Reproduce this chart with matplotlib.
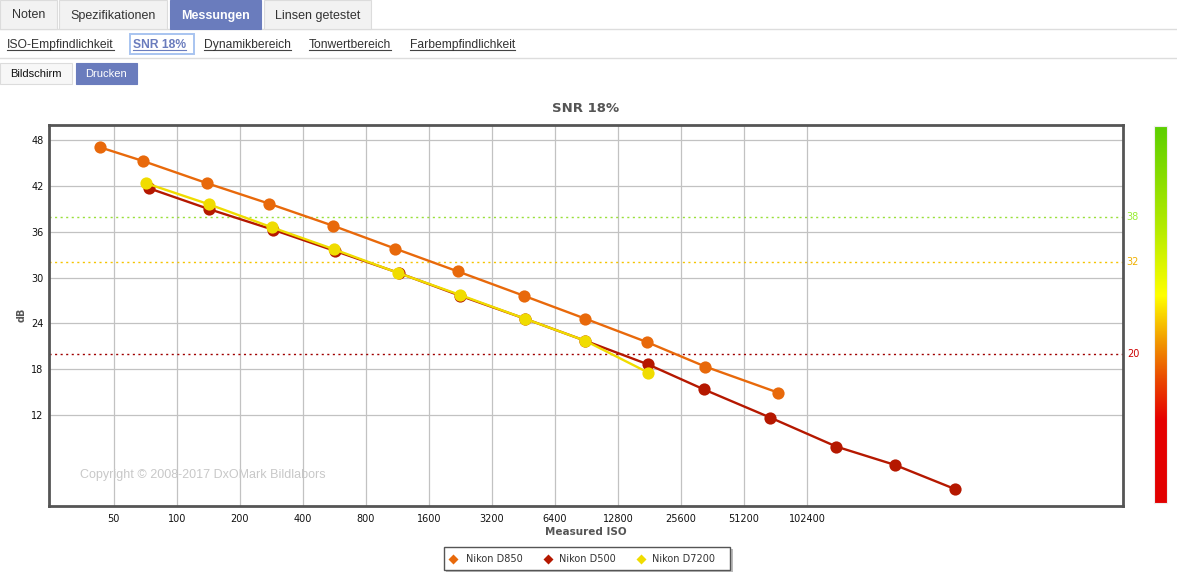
import matplotlib
matplotlib.use("Agg")
import matplotlib.pyplot as plt
import numpy as np
from matplotlib.patches import Rectangle
from matplotlib.lines import Line2D
from matplotlib.colors import LinearSegmentedColormap

# ---------------- data ----------------
d850_iso = [43, 69, 139, 276, 558, 1104, 2202, 4556, 8931, 17690, 33490, 74300]
d850_snr = [47.1, 45.3, 42.4, 39.7, 36.8, 33.8, 30.8, 27.6, 24.6, 21.5, 18.3, 14.9]

d500_iso = [74, 142, 287, 569, 1150, 2263, 4600, 8931, 17800, 33000, 68500,
            141500, 269000, 524000]
d500_snr = [41.7, 39.0, 36.3, 33.5, 30.6, 27.6, 24.6, 21.7, 18.6, 15.3, 11.6,
            7.8, 5.4, 2.2]

d7200_iso = [71, 143, 284, 565, 1142, 2263, 4600, 8931, 17900]
d7200_snr = [42.4, 39.6, 36.6, 33.7, 30.6, 27.7, 24.6, 21.7, 17.5]

series_names = ["Nikon D850", "Nikon D500", "Nikon D7200"]
series_colors = ["#e8690b", "#b51800", "#f0dc00"]

x_ticks = [50, 100, 200, 400, 800, 1600, 3200, 6400, 12800, 25600, 51200, 102400]
x_tick_labels = [str(v) for v in x_ticks]
y_ticks = [12, 18, 24, 30, 36, 42, 48]

thresholds = [38, 32, 20]
threshold_line_colors = ["#99e03a", "#f5c400", "#a00000"]
threshold_label_colors = ["#99ee33", "#f0b000", "#cc0000"]

tabs = ["Noten", "Spezifikationen", "Messungen", "Linsen getestet"]
links = ["ISO-Empfindlichkeit", "SNR 18%", "Dynamikbereich", "Tonwertbereich",
         "Farbempfindlichkeit"]
buttons = ["Bildschirm", "Drucken"]

# ---------------- figure ----------------
W, H = 1177, 578
fig = plt.figure(figsize=(W / 100, H / 100), dpi=100)
fig.patch.set_facecolor("white")

def fx(x):
    return x / W

def fy(y):
    return 1 - y / H

def prect(x0, y0, x1, y1, fc, ec="none", lw=0.8, z=1):
    r = Rectangle((fx(x0), fy(y1)), fx(x1) - fx(x0), fy(y0) - fy(y1),
                  transform=fig.transFigure, facecolor=fc, edgecolor=ec,
                  linewidth=lw, zorder=z)
    fig.add_artist(r)

def pline(x0, y0, x1, y1, color, lw=0.8, z=2):
    fig.add_artist(Line2D([fx(x0), fx(x1)], [fy(y0), fy(y1)],
                          transform=fig.transFigure, color=color, lw=lw, zorder=z))

ui_font = ["Liberation Sans", "DejaVu Sans"]
BLUE = "#6a7cbd"

# ---- tabs row ----
tab_boxes = [(0, 57), (59, 167), (170, 261), (264, 371)]
pline(0, 28.5, W, 28.5, "#dddddd", 1.0)
for i, (name, (a, b)) in enumerate(zip(tabs, tab_boxes)):
    sel = (i == 2)
    prect(a, 0, b, 28.5, BLUE if sel else "#f2f2f2",
          ec=BLUE if sel else "#dcdcdc", lw=0.8, z=3)
    fig.text(fx((a + b) / 2), fy(18.5), name, ha="center", va="baseline",
             fontsize=9, family=ui_font, color="white" if sel else "#333333",
             fontweight="bold" if sel else "normal", zorder=4)

# ---- links row ----
link_x = [7, 133, 204, 309, 410]
fig.canvas.draw()
renderer = fig.canvas.get_renderer()
for i, (name, x0) in enumerate(zip(links, link_x)):
    sel = (i == 1)
    t = fig.text(fx(x0), fy(47.7), name, ha="left", va="baseline", fontsize=8.7,
                 family=ui_font, color=BLUE if sel else "#333333",
                 fontweight="bold" if sel else "normal", zorder=4)
    bb = t.get_window_extent(renderer=renderer)
    pline(bb.x0, 49.5, bb.x1, 49.5, BLUE if sel else "#444444", 0.8, z=4)
    if sel:
        prect(x0 - 3, 34.5, 194, 53.5, "white", ec="#a8c4f0", lw=1.4, z=3)
pline(0, 58, W, 58, "#dddddd", 1.0)

# ---- buttons ----
btn_boxes = [(0, 72), (76, 137)]
for i, (name, (a, b)) in enumerate(zip(buttons, btn_boxes)):
    sel = (i == 1)
    prect(a, 63, b, 84, BLUE if sel else "#f7f7f7",
          ec=BLUE if sel else "#dcdcdc", lw=0.8, z=3)
    fig.text(fx((a + b) / 2), fy(77), name, ha="center", va="baseline",
             fontsize=8, family=ui_font, color="white" if sel else "#111111",
             zorder=4)

# ---------------- main axes ----------------
L, R, T, B = 49, 1123, 124.5, 506
ax = fig.add_axes([fx(L), fy(B), fx(R) - fx(L), fy(T) - fy(B)])
ax.set_xscale("log", base=2)
ax.set_xlim(24.5, 3.31e6)
ax.set_ylim(0, 50.1)

ax.set_xticks(x_ticks)
ax.set_xticklabels(x_tick_labels)
ax.xaxis.set_minor_locator(matplotlib.ticker.NullLocator())
ax.set_yticks(y_ticks)
ax.set_yticklabels([str(v) for v in y_ticks])
ax.tick_params(axis="both", length=0, labelsize=7, colors="#111111")
ax.tick_params(axis="x", pad=6)
ax.tick_params(axis="y", pad=4)
ax.grid(True, color="#c2c2c2", lw=0.9, zorder=0)
ax.set_axisbelow(True)
for sp in ax.spines.values():
    sp.set_color("#555555")
    sp.set_linewidth(2.0)

# threshold dotted lines and labels
for val, lc, tc in zip(thresholds, threshold_line_colors, threshold_label_colors):
    ax.axhline(val, color=lc, lw=1.0, ls=(0, (1.5, 2.5)), zorder=1)
    ax.text(1.0035, val, str(val), transform=ax.get_yaxis_transform(),
            ha="left", va="center", fontsize=7, color=tc)

ax.text(0.029, 0.08, "Copyright \u00a9 2008-2017 DxOMark Bildlabors",
        transform=ax.transAxes, fontsize=9, family=ui_font, color="#c8c8c8",
        ha="left", va="center", zorder=1)

for xs, ys, c in zip([d850_iso, d500_iso, d7200_iso],
                     [d850_snr, d500_snr, d7200_snr], series_colors):
    ax.plot(xs, ys, color=c, lw=1.7, marker="o", ms=8.8, mec="none",
            mfc=c, zorder=3, solid_capstyle="round")

ax.set_ylabel("")
ax.set_xlabel("")
fig.text(fx(22), fy(315), "dB", rotation=90, ha="center", va="center",
         fontsize=7, fontweight="bold", color="#555555")
fig.text(fx(586), fy(532), "Measured ISO", ha="center", va="center",
         fontsize=7.5, fontweight="bold", color="#555555")
fig.text(fx(586), fy(108), "SNR 18%", ha="center", va="center",
         fontsize=9.5, fontweight="bold", color="#555555")

# ---------------- colour bar ----------------
cax = fig.add_axes([fx(1154), fy(503), fx(1167) - fx(1154), fy(126) - fy(503)])
cmap = LinearSegmentedColormap.from_list(
    "snr", [(0.0, "#e20000"), (0.22, "#e60000"), (0.33, "#ea4a00"),
            (0.43, "#f29a00"), (0.55, "#ffff00"), (0.72, "#b8ec00"),
            (1.0, "#5ccf00")])
grad = np.linspace(0, 1, 256).reshape(-1, 1)
cax.imshow(grad, aspect="auto", cmap=cmap, origin="lower",
           extent=[0, 1, 0, 1])
cax.set_xticks([])
cax.set_yticks([])
for sp in cax.spines.values():
    sp.set_color("#eeeeee")
    sp.set_linewidth(0.8)

# ---------------- legend ----------------
prect(446, 549, 733, 572, "#bbbbbb", z=5)  # shadow
prect(443.5, 546.5, 730, 569.5, "white", ec="#555555", lw=1.0, z=6)
leg_marker_x = [453, 548, 641]
leg_text_x = [466, 559, 652]
for name, c, mx, tx in zip(series_names, series_colors, leg_marker_x, leg_text_x):
    fig.add_artist(Line2D([fx(mx)], [fy(558.5)], transform=fig.transFigure,
                          marker="D", ms=5, color=c, mec="none", zorder=7))
    fig.text(fx(tx), fy(558.5), name, ha="left", va="center", fontsize=7,
             color="#333333", zorder=7)

fig.savefig("out.png", dpi=100, facecolor="white")
